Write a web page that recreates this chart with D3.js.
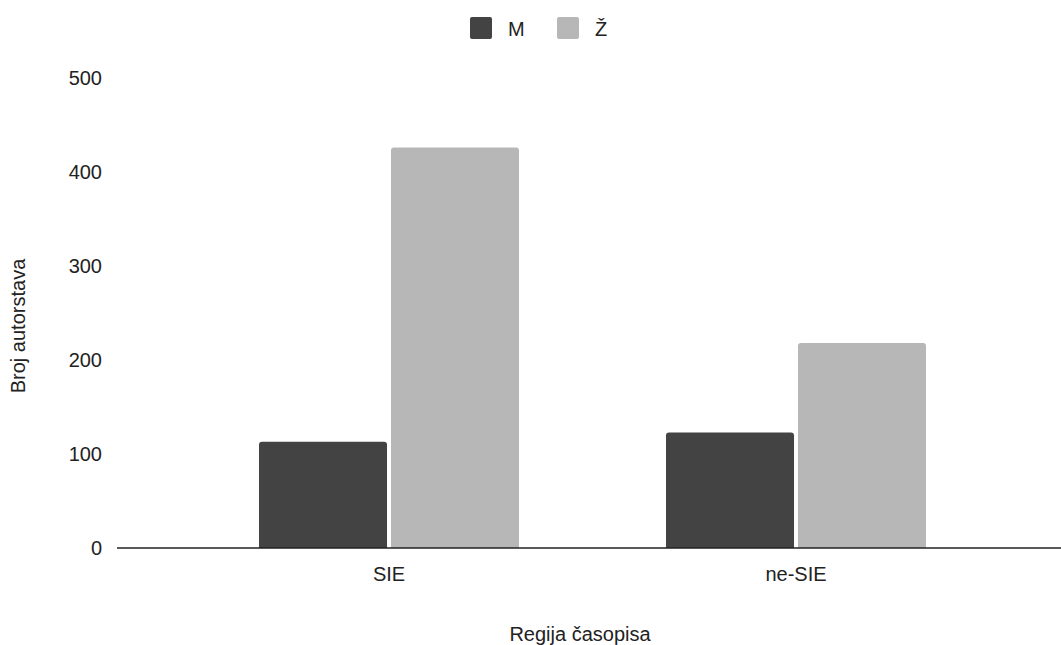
<!DOCTYPE html>
<html><head><meta charset="utf-8">
<script src="https://cdn.jsdelivr.net/npm/d3@7"></script>
<style>body{margin:0;background:#fff;}svg{display:block;font-family:"Liberation Sans",Arial,sans-serif;}</style>
</head><body>
<svg id="c" width="1061" height="645"></svg>
<script>
const categories = ["SIE", "ne-SIE"];
const seriesNames = ["M", "Ž"];
const valuesM = [113, 123];
const valuesZ = [426, 218];
const yTicks = [0, 100, 200, 300, 400, 500];
const colors = ["#434343", "#b7b7b7"];

const FS = 20;
const svg = d3.select("#c");
const y = d3.scaleLinear().domain([0, 500]).range([548, 78]);
const x0 = d3.scaleBand().domain(categories).range([185.5, 999.5]).paddingInner(0).paddingOuter(0);
const groupW = 260;
const x1 = d3.scaleBand().domain(seriesNames).range([0, groupW]).paddingInner(0.03);

const data = categories.map((c, i) => ({cat: c, vals: [valuesM[i], valuesZ[i]]}));

// y tick labels
const yAxis = d3.axisLeft(y).tickValues(yTicks).tickSize(0).tickPadding(0);
const ga = svg.append("g").attr("transform", "translate(102,0)").call(yAxis);
ga.select(".domain").remove();
ga.selectAll("text").attr("font-size", FS).attr("fill", "#222").attr("font-family", "Liberation Sans, Arial, sans-serif");

// bars
function roundTop(x, yy, w, h, r) {
  r = Math.min(r, h);
  return `M${x},${yy + h}V${yy + r}Q${x},${yy} ${x + r},${yy}H${x + w - r}Q${x + w},${yy} ${x + w},${yy + r}V${yy + h}Z`;
}
const g = svg.append("g");
data.forEach(d => {
  const gx = x0(d.cat) + (x0.bandwidth() - groupW) / 2;
  d.vals.forEach((v, j) => {
    const bx = gx + x1(seriesNames[j]);
    g.append("path")
      .attr("d", roundTop(bx, y(v), x1.bandwidth(), y(0) - y(v), 3))
      .attr("fill", colors[j]);
  });
});

// baseline
svg.append("line").attr("x1", 117).attr("x2", 1061).attr("y1", y(0)).attr("y2", y(0))
  .attr("stroke", "#222").attr("stroke-width", 1.5);

// x labels
const xAxis = d3.axisBottom(x0).tickSize(0).tickPadding(0);
const gx = svg.append("g").attr("transform", "translate(0,567)").call(xAxis);
gx.select(".domain").remove();
gx.selectAll("text").attr("font-size", FS).attr("fill", "#222").attr("dy", "0.71em").attr("font-family", "Liberation Sans, Arial, sans-serif");

// axis titles
svg.append("text").attr("x", 580).attr("y", 641).attr("text-anchor", "middle")
  .attr("font-size", FS).attr("fill", "#222").text("Regija časopisa");
svg.append("text").attr("transform", "translate(25,326) rotate(-90)").attr("text-anchor", "middle")
  .attr("font-size", FS).attr("fill", "#222").text("Broj autorstava");

// legend
const legX = [470, 557];
seriesNames.forEach((s, i) => {
  svg.append("rect").attr("x", legX[i]).attr("y", 17).attr("width", 22).attr("height", 22)
    .attr("rx", 2).attr("fill", colors[i]);
  svg.append("text").attr("x", legX[i] + 38).attr("y", 36).attr("font-size", FS)
    .attr("fill", "#222").text(s);
});
</script>
</body></html>
